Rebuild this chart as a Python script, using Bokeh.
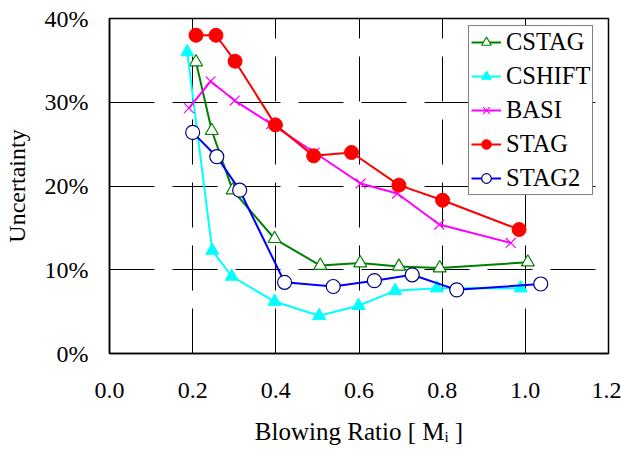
from bokeh.plotting import figure
from bokeh.models import Range1d, NumeralTickFormatter, FixedTicker, Legend, LegendItem
from bokeh.embed import file_html
from bokeh.resources import INLINE

# Data (blowing ratio, uncertainty fraction)
cstag_x = [0.208, 0.246, 0.296, 0.397, 0.507, 0.603, 0.696, 0.794, 1.006]
cstag_y = [0.348, 0.266, 0.195, 0.137, 0.105, 0.108, 0.104, 0.102, 0.109]

cshift_x = [0.187, 0.247, 0.294, 0.397, 0.504, 0.599, 0.687, 0.787, 0.989]
cshift_y = [0.360, 0.123, 0.092, 0.062, 0.045, 0.057, 0.075, 0.078, 0.078]

basi_x = [0.191, 0.243, 0.301, 0.389, 0.493, 0.604, 0.692, 0.793, 0.965]
basi_y = [0.293, 0.325, 0.302, 0.274, 0.240, 0.203, 0.191, 0.154, 0.132]

stag_x = [0.208, 0.256, 0.302, 0.399, 0.491, 0.582, 0.696, 0.801, 0.985]
stag_y = [0.380, 0.380, 0.349, 0.273, 0.236, 0.240, 0.201, 0.183, 0.148]

stag2_x = [0.200, 0.258, 0.313, 0.421, 0.538, 0.637, 0.728, 0.835, 1.037]
stag2_y = [0.264, 0.235, 0.195, 0.085, 0.080, 0.087, 0.094, 0.076, 0.083]

x_ticks = [0.0, 0.2, 0.4, 0.6, 0.8, 1.0, 1.2]
y_ticks = [0.0, 0.1, 0.2, 0.3, 0.4]

FONT = "Liberation Serif"

p = figure(width=621, height=449, output_backend="svg", toolbar_location=None,
           x_range=Range1d(0, 1.2), y_range=Range1d(0, 0.4),
           min_border_left=108, min_border_right=13, min_border_top=18, min_border_bottom=96)
p.background_fill_color = "white"
p.border_fill_color = "white"
p.outline_line_color = "black"
p.outline_line_width = 1.5

p.xaxis.ticker = FixedTicker(ticks=x_ticks)
p.yaxis.ticker = FixedTicker(ticks=y_ticks)
p.xaxis.formatter = NumeralTickFormatter(format="0.0")
p.yaxis.formatter = NumeralTickFormatter(format="0%")
for ax in (p.xaxis, p.yaxis):
    ax.major_label_text_font = FONT
    ax.major_label_text_font_size = "24px"
    ax.major_label_text_color = "black"
    ax.major_tick_in = 10
    ax.major_tick_out = 0
    ax.minor_tick_line_color = None
    ax.axis_line_color = "black"
    ax.axis_line_width = 1.5
    ax.major_tick_line_color = "black"
    ax.axis_label_text_font = FONT
    ax.axis_label_text_font_size = "24px"
    ax.axis_label_text_font_style = "normal"
    ax.axis_label_text_color = "black"
p.xaxis.major_label_standoff = 29
p.yaxis.major_label_standoff = 21
p.yaxis.axis_label = "Uncertainty"
p.yaxis.axis_label_standoff = 12
p.xaxis.axis_label = "Blowing Ratio [ M\u1d62 ]"
p.xaxis.axis_label_standoff = 17
p.xaxis.axis_label_text_font_size = "25px"

p.xgrid.ticker = FixedTicker(ticks=[0.2, 0.4, 0.6, 0.8, 1.0])
p.ygrid.ticker = FixedTicker(ticks=[0.1, 0.2, 0.3])
for g in (p.xgrid, p.ygrid):
    g.grid_line_color = "black"
    g.grid_line_width = 1
    g.grid_line_dash = "45 18"

items = []
r1 = p.line(cstag_x, cstag_y, line_color="#008000", line_width=2)
m1 = p.scatter(cstag_x, cstag_y, marker="triangle", size=13, line_color="#008000", fill_color="white", line_width=1.2)
items.append(LegendItem(label="CSTAG", renderers=[r1, m1]))

r2 = p.line(cshift_x, cshift_y, line_color="#00FFFF", line_width=2)
m2 = p.scatter(cshift_x, cshift_y, marker="triangle", size=13, line_color="#00FFFF", fill_color="#00FFFF")
items.append(LegendItem(label="CSHIFT", renderers=[r2, m2]))

r3 = p.line(basi_x, basi_y, line_color="#FF00FF", line_width=2)
m3 = p.scatter(basi_x, basi_y, marker="x", size=14, line_color="#FF00FF", line_width=1.2)
items.append(LegendItem(label="BASI", renderers=[r3, m3]))

r4 = p.line(stag_x, stag_y, line_color="#FF0000", line_width=2)
m4 = p.scatter(stag_x, stag_y, marker="circle", size=14, line_color="#FF0000", fill_color="#FF0000")
items.append(LegendItem(label="STAG", renderers=[r4, m4]))

r5 = p.line(stag2_x, stag2_y, line_color="#0000FF", line_width=2)
m5 = p.scatter(stag2_x, stag2_y, marker="circle", size=14, line_color="#000080", fill_color="white", line_width=1.2)
items.append(LegendItem(label="STAG2", renderers=[r5, m5]))

legend = Legend(items=items, location=(359, 158))
legend.label_text_font = FONT
legend.label_text_font_size = "24.5px"
legend.label_text_color = "black"
legend.glyph_width = 30
legend.glyph_height = 24
legend.label_height = 24
legend.spacing = 6
legend.padding = 2
legend.margin = 0
legend.label_standoff = 5
legend.border_line_color = "black"
legend.border_line_width = 1
legend.background_fill_color = "white"
legend.background_fill_alpha = 1.0
p.add_layout(legend)

open("out.html", "w").write(file_html(p, INLINE))
